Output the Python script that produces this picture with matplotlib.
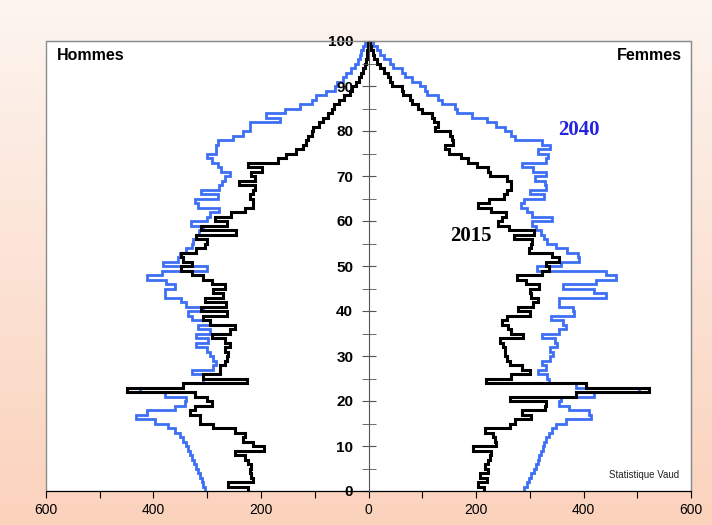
import numpy as np
import matplotlib
matplotlib.use('Agg')
import matplotlib.pyplot as plt
from matplotlib.patches import Rectangle
from matplotlib.ticker import FuncFormatter, MultipleLocator

# Âges 0..99 (bornes 0..100)
ages = np.arange(0, 101)

hommes_2015 = [225, 262, 215, 218, 221, 218, 225, 230, 249, 195,
               215, 234, 230, 249, 290, 314, 314, 333, 323, 292,
               301, 323, 450, 345, 226, 308, 277, 277, 267, 264,
               262, 267, 258, 267, 292, 258, 248, 295, 308, 264,
               311, 265, 305, 271, 290, 267, 292, 308, 329, 348,
               329, 345, 348, 320, 305, 301, 320, 246, 311, 264,
               286, 255, 230, 215, 215, 221, 215, 212, 240, 212,
               218, 199, 225, 169, 153, 134, 122, 117, 113, 106,
               104, 92, 85, 76, 67, 65, 54, 45, 35, 30,
               23, 17, 14, 11, 7, 5, 3, 2, 1, 1]

hommes_2040 = [305, 307, 310, 313, 317, 320, 324, 328, 332, 336,
               339, 345, 351, 360, 373, 397, 432, 413, 360, 342,
               339, 379, 425, 345, 308, 308, 329, 289, 283, 289,
               295, 301, 320, 299, 320, 295, 318, 295, 329, 336,
               308, 339, 348, 379, 379, 360, 376, 413, 385, 301,
               382, 355, 351, 339, 329, 327, 320, 315, 308, 331,
               301, 295, 278, 318, 323, 280, 311, 278, 272, 267,
               258, 274, 280, 292, 301, 283, 283, 280, 252, 234,
               221, 221, 165, 190, 156, 128, 106, 97, 79, 63,
               58, 48, 41, 32, 26, 20, 16, 14, 11, 7]

femmes_2015 = [215, 203, 220, 207, 222, 217, 223, 226, 228, 195,
               238, 235, 232, 217, 263, 272, 303, 285, 328, 331,
               263, 386, 522, 404, 219, 265, 300, 285, 263, 257,
               254, 254, 251, 245, 288, 266, 260, 248, 257, 300,
               279, 306, 316, 303, 300, 318, 293, 277, 323, 336,
               330, 355, 342, 299, 302, 305, 271, 308, 262, 240,
               249, 256, 228, 203, 225, 253, 258, 265, 266, 257,
               226, 223, 201, 186, 173, 149, 142, 158, 155, 152,
               124, 130, 121, 118, 99, 93, 80, 77, 65, 62,
               43, 40, 37, 28, 22, 15, 10, 8, 5, 3]

femmes_2040 = [290, 294, 298, 303, 308, 312, 315, 318, 321, 324,
               327, 331, 336, 342, 349, 367, 414, 411, 373, 355,
               358, 420, 503, 386, 336, 333, 316, 331, 322, 337,
               344, 337, 350, 347, 322, 355, 367, 361, 340, 383,
               380, 355, 355, 442, 420, 361, 423, 460, 441, 314,
               358, 392, 389, 370, 348, 333, 327, 321, 311, 305,
               341, 305, 295, 284, 289, 326, 301, 330, 329, 310,
               331, 306, 285, 331, 334, 316, 337, 322, 272, 266,
               254, 238, 220, 192, 164, 161, 136, 130, 108, 105,
               96, 80, 68, 62, 46, 40, 28, 22, 15, 8]

BLEU = '#3d6ff5'
NOIR = '#000000'

plt.rcParams['font.family'] = ['Liberation Sans', 'DejaVu Sans']

fig = plt.figure(figsize=(7.12, 5.25), dpi=100)

# fond dégradé
bg = fig.add_axes([0, 0, 1, 1], zorder=-1)
grad = np.linspace(0, 1, 256).reshape(-1, 1)
haut = np.array([253, 245, 240]) / 255
bas = np.array([251, 210, 188]) / 255
img = haut + (bas - haut) * grad[..., None]
bg.imshow(img, aspect='auto', extent=[0, 1, 0, 1], origin='upper')
bg.axis('off')

ax = fig.add_axes([46 / 712, 34 / 525, 645 / 712, 450 / 525])
ax.set_facecolor('white')

# 2040 d'abord, 2015 par-dessus
ax.stairs(-np.array(hommes_2040), ages, orientation='horizontal',
          baseline=None, color=BLEU, lw=2)
ax.stairs(np.array(femmes_2040), ages, orientation='horizontal',
          baseline=None, color=BLEU, lw=2)
ax.stairs(-np.array(hommes_2015), ages, orientation='horizontal',
          baseline=None, color=NOIR, lw=2.2)
ax.stairs(np.array(femmes_2015), ages, orientation='horizontal',
          baseline=None, color=NOIR, lw=2.2)

ax.set_xlim(-600, 600)
ax.set_ylim(0, 100)

# axe vertical central
ax.spines['left'].set_position(('data', 0))
ax.spines['left'].set_color('#555555')
ax.spines['left'].set_zorder(5)
ax.yaxis.set_major_locator(MultipleLocator(10))
ax.yaxis.set_minor_locator(MultipleLocator(5))
ax.tick_params(axis='y', which='both', direction='inout', length=10,
               color='#555555', pad=6)
for lab in ax.get_yticklabels():
    lab.set_fontweight('bold')
    lab.set_fontsize(11)

# axe horizontal
ax.xaxis.set_major_locator(MultipleLocator(100))
ax.xaxis.set_major_formatter(FuncFormatter(
    lambda v, p: f'{abs(int(round(v)))}' if round(v) % 200 == 0 else ''))
ax.tick_params(axis='x', direction='out', length=5, labelsize=10, pad=4)
ax.spines['bottom'].set_color('black')
for s in ['top', 'right']:
    ax.spines[s].set_color('#8c8c8c')
ax.add_patch(Rectangle((0, 0), 1, 1, transform=ax.transAxes, fill=False,
                       edgecolor='#8c8c8c', lw=1, clip_on=False, zorder=0))

ax.text(0.017, 0.968, 'Hommes', transform=ax.transAxes, fontsize=11.5,
        fontweight='bold', va='center', ha='left')
ax.text(0.986, 0.968, 'Femmes', transform=ax.transAxes, fontsize=11.5,
        fontweight='bold', va='center', ha='right')
ax.text(392, 80.2, '2040', fontsize=15, fontweight='bold', color='#2424dd',
        family='Liberation Serif', ha='center', va='center')
ax.text(191, 56.7, '2015', fontsize=15, fontweight='bold', color='black',
        family='Liberation Serif', ha='center', va='center')
ax.text(578, 3.6, 'Statistique Vaud', fontsize=7, ha='right', va='center',
        color='#222222')

fig.savefig('out.png', dpi=100)
